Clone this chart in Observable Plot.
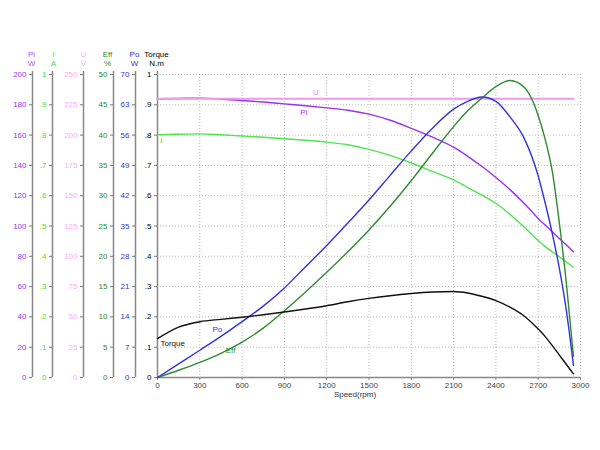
<!DOCTYPE html>
<html><head><meta charset="utf-8">
<script src="https://cdn.jsdelivr.net/npm/d3@7"></script>
<script src="https://cdn.jsdelivr.net/npm/@observablehq/plot@0.6"></script>
<style>
body{margin:0;background:#fff;}
#chart svg{font-family:"Liberation Sans",Arial,sans-serif;}
</style>
</head><body><div id="chart"></div>
<script>
// ---- data ----
const speed    = [0,150,300,450,600,750,900,1050,1200,1350,1500,1650,1800,1950,2100,2200,2300,2400,2500,2600,2700,2750,2800,2850,2900,2950];
const piW      = [184,184.2,184.4,183.8,182.8,181.8,180.6,179.4,178,176.4,173.8,169.8,164.4,158.6,152,146,139.4,132,124,115,105,100.6,96.2,91.8,87.4,83];
const currentA = [0.801,0.803,0.804,0.801,0.797,0.793,0.788,0.783,0.777,0.768,0.753,0.733,0.708,0.68,0.652,0.627,0.602,0.575,0.538,0.497,0.452,0.432,0.415,0.398,0.381,0.364];
const voltageV = [230,230,230,230,230,230,230,230,230,230,230,230,230,230,230,230,230,230,230,230,230,230,230,230,230,230];
const effPct   = [0,1.2,2.5,4.0,5.85,8.15,11.0,14.1,17.35,20.75,24.35,28.25,32.5,37.0,41.4,44.0,46.1,48.0,49.0,47.9,43.25,39.25,34.0,25.5,15.5,3.5];
const poW      = [0,3.15,6.3,9.5,12.9,16.5,20.7,25.6,30.5,35.7,41.0,46.7,52.35,57.6,62.0,63.8,64.8,63.8,60.2,55.3,46.55,40.25,33.25,25.2,15.4,2.8];
const torqueNm = [0.128,0.166,0.184,0.192,0.199,0.207,0.216,0.226,0.237,0.250,0.261,0.270,0.277,0.282,0.284,0.279,0.268,0.254,0.232,0.203,0.16,0.135,0.105,0.074,0.043,0.012];

const xTicks      = [0,300,600,900,1200,1500,1800,2100,2400,2700,3000];
const piTicks     = ["0","20","40","60","80","100","120","140","160","180","200"];
const iTicks      = ["0",".1",".2",".3",".4",".5",".6",".7",".8",".9","1"];
const uTicks      = ["0","25","50","75","100","125","150","175","200","225","250"];
const effTicks    = ["0","5","10","15","20","25","30","35","40","45","50"];
const poTicks     = ["0","7","14","21","28","35","42","49","56","63","70"];
const torqueTicks = ["0",".1",".2",".3",".4",".5",".6",".7",".8",".9","1"];

const seriesNames = ["Pi","I","U","Eff","Po","Torque"];
const seriesUnits = ["W","A","V","%","W","N.m"];
const seriesMax   = [200,1,250,50,70,1];

// ---- styling ----
const norm = [0,0.1,0.2,0.3,0.4,0.5,0.6,0.7,0.8,0.9,1];
const axisDefs = [
  {labels: piTicks,     off:-125, hx:-126, fill:"#9933ff", head:"#aa55ff"},
  {labels: iTicks,      off:-105, hx:-104, fill:"#44dd44", head:"#44dd44"},
  {labels: uTicks,      off:-74,  hx:-74,  fill:"#ffaaff", head:"#ffaaff"},
  {labels: effTicks,    off:-44,  hx:-50,  fill:"#2b8a2b", head:"#2b8a2b"},
  {labels: poTicks,     off:-22,  hx:-23,  fill:"#3333cc", head:"#3333cc"},
  {labels: torqueTicks, off:0,    hx:-1,   fill:"#000000", head:"#000000"}
];
const lineColors = {Pi:"#9933ee", I:"#4de64d", U:"#ee99ee", Eff:"#2e8b2e", Po:"#3333dd", Torque:"#111111"};

const rows = [];
const seriesValues = {Pi: piW, I: currentA, U: voltageV, Eff: effPct, Po: poW, Torque: torqueNm};
seriesNames.forEach((name, k) => {
  speed.forEach((s, i) => rows.push({name, speed: s, v: seriesValues[name][i] / seriesMax[k]}));
});

const marks = [];
// grid
marks.push(Plot.gridX(xTicks.slice(1), {stroke:"#b8b8b8", strokeOpacity:1, strokeDasharray:"1,2"}));
marks.push(Plot.gridY(norm.slice(1), {stroke:"#b8b8b8", strokeOpacity:1, strokeDasharray:"1,2"}));

// left axes
axisDefs.forEach((a, k) => {
  marks.push(Plot.ruleX([0], {y1: 0, y2: 1.01, dx: a.off, stroke:"#888", strokeWidth:1.5}));
  marks.push(Plot.axisY(norm, {
    anchor:"left", dx: a.off, tickSize:3, tickPadding:3,
    stroke:"#777", fill: a.fill, fontSize: 8, label: null,
    tickFormat: d => a.labels[Math.round(d * 10)]
  }));
  marks.push(Plot.text([seriesNames[k]], {x: () => 0, y: () => 1, text: d => d, dx: a.hx, dy: -20, fill: a.head, fontSize: 8}));
  marks.push(Plot.text([seriesUnits[k]], {x: () => 0, y: () => 1, text: d => d, dx: a.hx, dy: -11, fill: a.head, fontSize: 8}));
});

// x axis
marks.push(Plot.ruleY([0], {stroke:"#888", strokeWidth:1.5}));
marks.push(Plot.axisX(xTicks, {anchor:"bottom", tickSize:3, tickPadding:2, stroke:"#888", fill:"#444", fontSize:8, label:null, tickFormat: d => String(d)}));
marks.push(Plot.text(["Speed(rpm)"], {frameAnchor:"bottom", text: d => d, dx:-14, dy:19, fill:"#333", fontSize:8}));

// curves
seriesNames.forEach(name => {
  marks.push(Plot.line(rows.filter(r => r.name === name), {
    x:"speed", y:"v", stroke: lineColors[name], strokeWidth: name === "U" ? 2 : 1.4, curve:"monotone-x"
  }));
});

// in-plot labels
const curveLabels = [
  {text:"U",      speed:1123, v:0.94,  c:"#ee88ee", anchor:"middle"},
  {text:"Pi",     speed:1038, v:0.876, c:"#9933ee", anchor:"middle"},
  {text:"I",      speed:28,   v:0.782, c:"#33cc33", anchor:"middle"},
  {text:"Torque", speed:21,   v:0.112, c:"#111",    anchor:"start"},
  {text:"Po",     speed:424,  v:0.157, c:"#3333dd", anchor:"middle"},
  {text:"Eff",    speed:518,  v:0.089, c:"#2e8b2e", anchor:"middle"}
];
curveLabels.forEach(l => {
  marks.push(Plot.text([l], {x:"speed", y:"v", text:"text", fill: l.c, fontSize: 8, textAnchor: l.anchor}));
});

const chart = Plot.plot({
  width: 600, height: 450,
  marginLeft: 157, marginRight: 20, marginTop: 74, marginBottom: 73,
  x: {domain:[0,3000], axis:null},
  y: {domain:[0,1], axis:null},
  style: {fontFamily:"'Liberation Sans', Arial, sans-serif", fontSize:"8px", background:"#fff"},
  marks
});
document.getElementById("chart").appendChild(chart);
</script>
</body></html>
